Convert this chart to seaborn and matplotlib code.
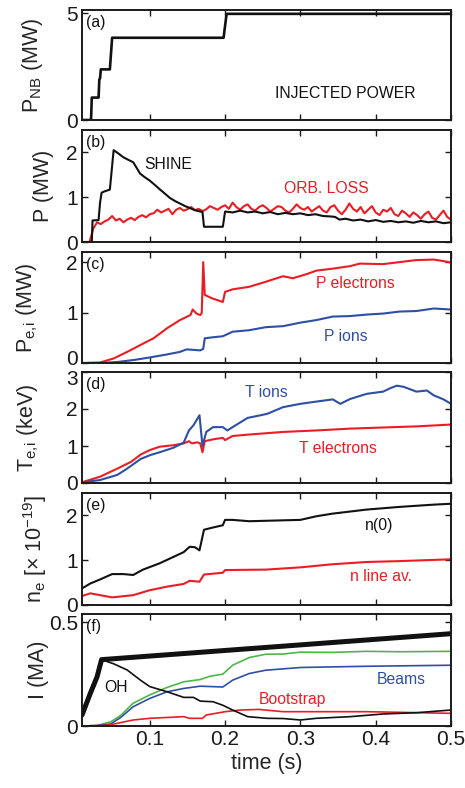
import numpy as np
import pandas as pd
import matplotlib
matplotlib.use("Agg")
import matplotlib.pyplot as plt
import matplotlib.transforms as mtransforms
import seaborn as sns

sns.set_theme(style="ticks")
plt.rcParams["font.family"] = ["Liberation Sans", "DejaVu Sans"]
plt.rcParams["mathtext.fontset"] = "custom"
plt.rcParams["mathtext.rm"] = "Liberation Sans"
plt.rcParams["mathtext.it"] = "Liberation Sans:italic"
plt.rcParams["axes.unicode_minus"] = True

RED = "#EC1C24"
BLUE = "#2E4FA3"
GREEN = "#4DB848"
BLACK = "#111111"

# (a) injected neutral-beam power (MW)
t_nb = [0.010, 0.022, 0.023, 0.032, 0.033, 0.034, 0.035, 0.047, 0.050, 0.198, 0.202, 0.500]
p_nb = [0.0, 0.0, 1.05, 1.05, 1.90, 1.95, 2.37, 2.37, 3.85, 3.85, 4.97, 4.97]

# (b) shine-through and orbit loss (MW)
t_shine = [0.010, 0.023, 0.024, 0.032, 0.034, 0.036, 0.040, 0.047, 0.052,
           0.058, 0.065, 0.072, 0.078, 0.082, 0.087, 0.093, 0.100,
           0.107, 0.113, 0.120, 0.127, 0.134, 0.140, 0.147, 0.153,
           0.160, 0.167, 0.170, 0.172, 0.197, 0.200,
           0.21, 0.22, 0.23, 0.24, 0.25, 0.26, 0.27, 0.28, 0.29, 0.30, 0.31, 0.32, 0.33, 0.34,
           0.346, 0.352,
           0.36, 0.37, 0.38, 0.39, 0.40, 0.41, 0.42, 0.43, 0.44, 0.45, 0.46, 0.47, 0.48, 0.49, 0.50]
p_shine = [0, 0, 0.48, 0.49, 0.88, 1.10, 1.13, 1.17, 2.05,
           1.98, 1.89, 1.83, 1.78, 1.67, 1.53, 1.45, 1.37,
           1.27, 1.18, 1.08, 0.98, 0.91, 0.86, 0.80, 0.76,
           0.71, 0.68, 0.67, 0.34, 0.34, 0.68,
           0.66, 0.70, 0.66, 0.68, 0.64, 0.67, 0.62, 0.65, 0.62, 0.64, 0.60, 0.62, 0.58, 0.57,
           0.56, 0.50,
           0.52, 0.48, 0.50, 0.46, 0.49, 0.45, 0.47, 0.44, 0.46, 0.43, 0.47, 0.44, 0.46, 0.42, 0.44]

t_orb = np.round(np.arange(0.010, 0.5001, 0.005), 3)
p_orb = [0, 0, 0, 0.30, 0.44, 0.40, 0.46, 0.50, 0.58, 0.48,
         0.52, 0.44, 0.50, 0.54, 0.49, 0.56, 0.60, 0.55, 0.62, 0.64,
         0.72, 0.66, 0.70, 0.74, 0.62, 0.72, 0.76, 0.70, 0.73, 0.78,
         0.71, 0.74, 0.69, 0.73, 0.80, 0.76, 0.72, 0.78, 0.82, 0.74,
         0.88, 0.78, 0.72, 0.80, 0.84, 0.74, 0.70, 0.78, 0.82, 0.76,
         0.68, 0.74, 0.80, 0.78, 0.70, 0.66, 0.74, 0.84, 0.76, 0.72,
         0.78, 0.68, 0.74, 0.80, 0.70, 0.66, 0.78, 0.82, 0.70, 0.62,
         0.72, 0.86, 0.74, 0.68, 0.78, 0.64, 0.72, 0.80, 0.66, 0.60,
         0.72, 0.68, 0.76, 0.62, 0.58, 0.70, 0.64, 0.56, 0.66, 0.60,
         0.52, 0.62, 0.68, 0.54, 0.50, 0.60, 0.70, 0.56, 0.50]

# (c) power to electrons and ions (MW)
t_pe = [0.010, 0.034, 0.052, 0.070, 0.088, 0.105, 0.123, 0.140, 0.154, 0.157,
        0.162, 0.167, 0.169, 0.171, 0.173, 0.183, 0.197, 0.200, 0.210, 0.232,
        0.254, 0.277, 0.290, 0.308, 0.321, 0.343, 0.366, 0.379, 0.410, 0.432,
        0.454, 0.477, 0.490, 0.500]
p_el = [0.0, 0.01, 0.09, 0.22, 0.36, 0.49, 0.69, 0.85, 0.95, 1.06,
        0.98, 0.95, 0.99, 2.00, 1.35, 1.28, 1.21, 1.41, 1.46, 1.51,
        1.61, 1.72, 1.68, 1.76, 1.83, 1.87, 1.92, 1.97, 1.96, 2.00,
        2.04, 2.05, 2.02, 1.99]
t_pi = [0.010, 0.034, 0.057, 0.079, 0.100, 0.123, 0.140, 0.149, 0.158, 0.167,
        0.171, 0.173, 0.184, 0.197, 0.210, 0.232, 0.254, 0.277, 0.300, 0.321,
        0.343, 0.366, 0.388, 0.410, 0.432, 0.454, 0.477, 0.500]
p_ion = [0.0, 0.0, 0.02, 0.06, 0.11, 0.17, 0.22, 0.27, 0.26, 0.25,
         0.28, 0.49, 0.51, 0.53, 0.62, 0.65, 0.71, 0.73, 0.80, 0.85,
         0.92, 0.93, 0.96, 0.98, 1.02, 1.03, 1.08, 1.06]

# (d) electron and ion temperatures (keV)
t_te = [0.010, 0.034, 0.057, 0.075, 0.088, 0.100, 0.113, 0.131, 0.145, 0.152,
        0.156, 0.163, 0.167, 0.170, 0.173, 0.184, 0.197, 0.200, 0.210, 0.232,
        0.277, 0.321, 0.366, 0.410, 0.454, 0.500]
T_el = [0.02, 0.17, 0.39, 0.57, 0.77, 0.89, 0.98, 1.02, 1.07, 1.13,
        1.07, 1.10, 1.07, 0.83, 1.13, 1.18, 1.22, 1.16, 1.27, 1.31,
        1.38, 1.42, 1.47, 1.50, 1.53, 1.58]
t_ti = [0.010, 0.034, 0.057, 0.070, 0.088, 0.100, 0.113, 0.131, 0.145, 0.152,
        0.158, 0.166, 0.170, 0.175, 0.184, 0.197, 0.203, 0.210, 0.230, 0.247,
        0.256, 0.277, 0.300, 0.321, 0.343, 0.353, 0.366, 0.388, 0.410, 0.419,
        0.428, 0.437, 0.454, 0.468, 0.477, 0.490, 0.500]
T_ion = [0.02, 0.08, 0.22, 0.39, 0.65, 0.75, 0.83, 0.95, 1.09, 1.42,
         1.56, 1.83, 1.00, 1.38, 1.51, 1.51, 1.42, 1.51, 1.76, 1.83,
         1.87, 2.05, 2.14, 2.20, 2.26, 2.14, 2.27, 2.41, 2.47, 2.56,
         2.63, 2.60, 2.47, 2.50, 2.37, 2.26, 2.14]

# (e) central and line-averaged density (1e19 m^-3)
t_n0 = [0.010, 0.021, 0.034, 0.050, 0.065, 0.078, 0.091, 0.113, 0.131, 0.145,
        0.153, 0.160, 0.166, 0.172, 0.184, 0.197, 0.200, 0.210, 0.232, 0.300,
        0.321, 0.343, 0.388, 0.432, 0.477, 0.500]
n_0 = [0.37, 0.48, 0.57, 0.69, 0.69, 0.67, 0.79, 0.93, 1.07, 1.18,
       1.30, 1.29, 1.22, 1.68, 1.73, 1.78, 1.90, 1.90, 1.87, 1.90,
       1.98, 2.04, 2.13, 2.19, 2.24, 2.26]
t_nl = [0.010, 0.021, 0.034, 0.050, 0.078, 0.100, 0.123, 0.145, 0.153, 0.166,
        0.172, 0.197, 0.200, 0.254, 0.300, 0.343, 0.388, 0.432, 0.500]
n_line = [0.20, 0.26, 0.22, 0.17, 0.22, 0.33, 0.41, 0.47, 0.54, 0.52,
          0.68, 0.72, 0.78, 0.79, 0.84, 0.91, 0.96, 0.98, 1.02]

# (f) current components (MA)
t_tot = [0.010, 0.021, 0.030, 0.036, 0.500]
I_tot = [0.053, 0.157, 0.237, 0.320, 0.445]
t_oh = [0.010, 0.021, 0.030, 0.036, 0.052, 0.070, 0.088, 0.100, 0.123, 0.145,
        0.158, 0.167, 0.184, 0.197, 0.210, 0.230, 0.256, 0.277, 0.300, 0.321,
        0.366, 0.410, 0.454, 0.500]
I_oh = [0.053, 0.157, 0.237, 0.320, 0.300, 0.270, 0.220, 0.190, 0.165, 0.138,
        0.138, 0.120, 0.117, 0.100, 0.077, 0.045, 0.037, 0.036, 0.029, 0.037,
        0.045, 0.058, 0.064, 0.077]
t_ni = [0.010, 0.030, 0.048, 0.061, 0.078, 0.100, 0.123, 0.145, 0.167, 0.180,
        0.197, 0.210, 0.232, 0.254, 0.277, 0.300, 0.343, 0.388, 0.432, 0.500]
I_ni = [0.0, 0.003, 0.02, 0.05, 0.11, 0.15, 0.186, 0.213, 0.224, 0.24,
        0.25, 0.293, 0.33, 0.346, 0.347, 0.356, 0.355, 0.36, 0.358, 0.36]
t_bm = [0.010, 0.030, 0.048, 0.061, 0.078, 0.100, 0.123, 0.145, 0.167, 0.197,
        0.210, 0.232, 0.254, 0.300, 0.343, 0.388, 0.432, 0.500]
I_beam = [0.0, 0.002, 0.01, 0.04, 0.093, 0.133, 0.165, 0.181, 0.192, 0.188,
          0.221, 0.253, 0.269, 0.282, 0.285, 0.288, 0.290, 0.293]
t_bs = [0.010, 0.040, 0.057, 0.078, 0.100, 0.145, 0.153, 0.170, 0.175, 0.200,
        0.220, 0.245, 0.277, 0.300, 0.343, 0.388, 0.432, 0.500]
I_boot = [0.0, 0.002, 0.013, 0.029, 0.037, 0.045, 0.037, 0.037, 0.053, 0.069,
          0.077, 0.080, 0.069, 0.069, 0.069, 0.069, 0.066, 0.061]

x_ticks = [0.1, 0.2, 0.3, 0.4, 0.5]
x_tick_labels = ["0.1", "0.2", "0.3", "0.4", "0.5"]

W, H = 465, 788
fig = plt.figure(figsize=(W / 100, H / 100), dpi=100)

# panel extents in pixels (top, bottom)
rows = [(10, 120), (130, 242), (252, 363), (372, 483), (493, 605), (614, 726)]
left_px, right_px = 82, 451
axes = []
for top, bot in rows:
    ax = fig.add_axes([left_px / W, 1 - bot / H, (right_px - left_px) / W, (bot - top) / H])
    axes.append(ax)

TICK_FS = 15
ANN_FS = 11.3


def line(ax, t, v, color, lw):
    df = pd.DataFrame({"t": t, "v": v})
    sns.lineplot(data=df, x="t", y="v", ax=ax, color=color, linewidth=lw,
                 estimator=None, sort=False, legend=False)


# (a)
line(axes[0], t_nb, p_nb, BLACK, 1.9)
axes[0].text(0.359, 1.22, "INJECTED POWER", fontsize=ANN_FS, ha="center", va="center", color=BLACK)

# (b)
line(axes[1], t_orb, p_orb, RED, 1.5)
line(axes[1], t_shine, p_shine, BLACK, 1.5)
axes[1].text(0.093, 1.74, "SHINE", fontsize=ANN_FS, ha="left", va="center", color=BLACK)
axes[1].text(0.278, 1.19, "ORB. LOSS", fontsize=ANN_FS, ha="left", va="center", color=RED)

# (c)
line(axes[2], t_pe, p_el, RED, 1.5)
line(axes[2], t_pi, p_ion, BLUE, 1.5)
axes[2].text(0.321, 1.58, "P electrons", fontsize=ANN_FS, ha="left", va="center", color=RED)
axes[2].text(0.331, 0.53, "P ions", fontsize=ANN_FS, ha="left", va="center", color=BLUE)

# (d)
line(axes[3], t_te, T_el, RED, 1.5)
line(axes[3], t_ti, T_ion, BLUE, 1.5)
axes[3].text(0.227, 2.45, "T ions", fontsize=ANN_FS, ha="left", va="center", color=BLUE)
axes[3].text(0.298, 0.93, "T electrons", fontsize=ANN_FS, ha="left", va="center", color=RED)

# (e)
line(axes[4], t_n0, n_0, BLACK, 1.5)
line(axes[4], t_nl, n_line, RED, 1.5)
axes[4].text(0.386, 1.78, "n(0)", fontsize=ANN_FS, ha="left", va="center", color=BLACK)
axes[4].text(0.366, 0.63, "n line av.", fontsize=ANN_FS, ha="left", va="center", color=RED)

# (f)
line(axes[5], t_ni, I_ni, GREEN, 1.2)
line(axes[5], t_bm, I_beam, BLUE, 1.2)
line(axes[5], t_bs, I_boot, RED, 1.2)
line(axes[5], t_oh, I_oh, BLACK, 1.2)
line(axes[5], t_tot, I_tot, BLACK, 3.6)
axes[5].text(0.040, 0.186, "OH", fontsize=ANN_FS, ha="left", va="center", color=BLACK)
axes[5].text(0.402, 0.224, "Beams", fontsize=ANN_FS, ha="left", va="center", color=BLUE)
axes[5].text(0.245, 0.128, "Bootstrap", fontsize=ANN_FS, ha="left", va="center", color=RED)

ylims = [(0, 5.15), (0, 2.5), (0, 2.2), (0, 3.0), (0, 2.5), (0, 0.54)]
yticks = [[0, 5], [0, 1, 2], [0, 1, 2], [0, 1, 2, 3], [0, 1, 2], [0, 0.5]]
ytlabels = [["0", "5"], ["0", "1", "2"], ["0", "1", "2"], ["0", "1", "2", "3"],
            ["0", "1", "2"], ["0", "0.5"]]
ylabels = [r"P$_{\mathregular{NB}}$ (MW)",
           "P (MW)",
           r"P$_{\mathregular{e,\!i}}$ (MW)",
           r"T$_{\mathregular{e,\!i}}$ (keV)",
           r"n$_{\mathregular{e}}$ [× 10$^{\mathregular{-19}}$]",
           "I (MA)"]
label_x = [-0.10, -0.075, -0.115, -0.11, -0.09, -0.09]
panel_tags = ["(a)", "(b)", "(c)", "(d)", "(e)", "(f)"]

for i, ax in enumerate(axes):
    ax.set_xlim(0.01, 0.5)
    ax.set_ylim(*ylims[i])
    ax.set_xticks(x_ticks)
    ax.set_yticks(yticks[i])
    ax.set_yticklabels(ytlabels[i])
    if i == len(axes) - 1:
        ax.set_xticklabels(x_tick_labels)
        ax.set_xlabel("time (s)", fontsize=15.5, labelpad=3)
    else:
        ax.set_xticklabels([])
        ax.set_xlabel("")
    ax.set_ylabel(ylabels[i], fontsize=15.5)
    ax.yaxis.set_label_coords(label_x[i], 0.5)
    ax.tick_params(direction="in", length=4, width=1.0, top=True, right=True,
                   labelsize=TICK_FS, pad=3, colors="#1a1a1a")
    for s in ax.spines.values():
        s.set_visible(True)
        s.set_linewidth(1.4)
        s.set_color("#1a1a1a")
    ax.set_facecolor("white")
    ax.text(0.012, 0.885, panel_tags[i], transform=ax.transAxes, fontsize=ANN_FS,
            ha="left", va="center", color=BLACK)

# nudge the crowded tick labels between panels (c) and (d) apart
nudge_up = mtransforms.ScaledTranslation(0, 4 / 72, fig.dpi_scale_trans)
nudge_down = mtransforms.ScaledTranslation(0, -4 / 72, fig.dpi_scale_trans)
lbl_c0 = axes[2].get_yticklabels()[0]
lbl_c0.set_transform(lbl_c0.get_transform() + nudge_up)
lbl_d3 = axes[3].get_yticklabels()[-1]
lbl_d3.set_transform(lbl_d3.get_transform() + nudge_down)

fig.savefig("out.png", dpi=100, facecolor="white")
